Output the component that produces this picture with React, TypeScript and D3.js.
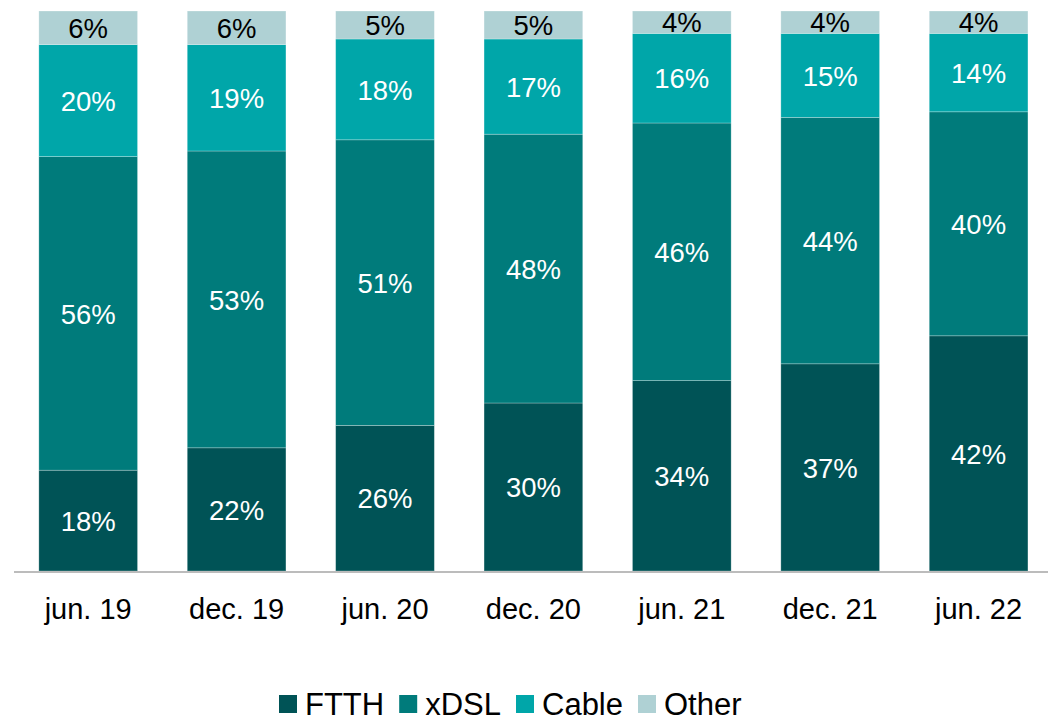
import { useMemo } from "react";
import * as d3 from "d3";

const width = 1048;
const height = 721;
const margin = { top: 11, right: -5, bottom: 150, left: 14 };

const periods = ["jun. 19", "dec. 19", "jun. 20", "dec. 20", "jun. 21", "dec. 21", "jun. 22"];
const seriesNames = ["FTTH", "xDSL", "Cable", "Other"];
const ftth = [18, 22, 26, 30, 34, 37, 42];
const xdsl = [56, 53, 51, 48, 46, 44, 40];
const cable = [20, 19, 18, 17, 16, 15, 14];
const other = [6, 6, 5, 5, 4, 4, 4];
const colors = ["#005356", "#007b7b", "#00a6a9", "#afd1d4"];
const labelColors = ["#fff", "#fff", "#fff", "#000"];

const font = "'Liberation Sans', Arial, sans-serif";

const measure = (text: string, size: number) => {
  const ctx = document.createElement("canvas").getContext("2d")!;
  ctx.font = `${size}px ${font}`;
  return ctx.measureText(text).width;
};

export default function App() {
  const rows = periods.map((p, i) => ({
    period: p,
    FTTH: ftth[i],
    xDSL: xdsl[i],
    Cable: cable[i],
    Other: other[i],
  }));

  const stacked = d3.stack<any>().keys(seriesNames)(rows);

  const x = d3
    .scaleBand<string>()
    .domain(periods)
    .range([margin.left, margin.left + 7 * 148.4])
    .paddingInner(0.335)
    .paddingOuter(0.1675);
  const y = d3
    .scaleLinear()
    .domain([0, 100])
    .range([571, margin.top]);

  const legend = useMemo(() => {
    let cx = 279;
    return seriesNames.map((name, i) => {
      const item = { name, x: cx, color: colors[i] };
      cx += 18 + 8 + measure(name, 31) + 15;
      return item;
    });
  }, []);

  return (
    <svg
      width={width}
      height={height}
      style={{ position: "absolute", left: 0, top: 0, background: "#fff" }}
      fontFamily={font}
    >
      {stacked.map((layer, li) => (
        <g key={layer.key}>
          {layer.map((d, i) => {
            const x0 = x(periods[i])!;
            const top = y(d[1]);
            const bottom = y(d[0]);
            return (
              <g key={i}>
                <rect
                  x={x0}
                  y={top}
                  width={x.bandwidth()}
                  height={bottom - top}
                  fill={colors[li]}
                  stroke="rgba(255,255,255,0.35)"
                  strokeWidth={0.75}
                />
                <text
                  x={x0 + x.bandwidth() / 2}
                  y={(top + bottom) / 2}
                  dy="0.37em"
                  textAnchor="middle"
                  fontSize={27.5}
                  fill={labelColors[li]}
                >
                  {`${d[1] - d[0]}%`}
                </text>
              </g>
            );
          })}
        </g>
      ))}

      <line x1={margin.left} x2={width} y1={572} y2={572} stroke="#a6a6a6" strokeWidth={1.5} />

      {periods.map((p) => (
        <text
          key={p}
          x={x(p)! + x.bandwidth() / 2}
          y={619}
          textAnchor="middle"
          fontSize={29}
          fill="#000"
        >
          {p}
        </text>
      ))}

      {legend.map((l) => (
        <g key={l.name}>
          <rect x={l.x} y={695} width={18} height={18} fill={l.color} />
          <text x={l.x + 26} y={715} fontSize={31} fill="#000">
            {l.name}
          </text>
        </g>
      ))}
    </svg>
  );
}
